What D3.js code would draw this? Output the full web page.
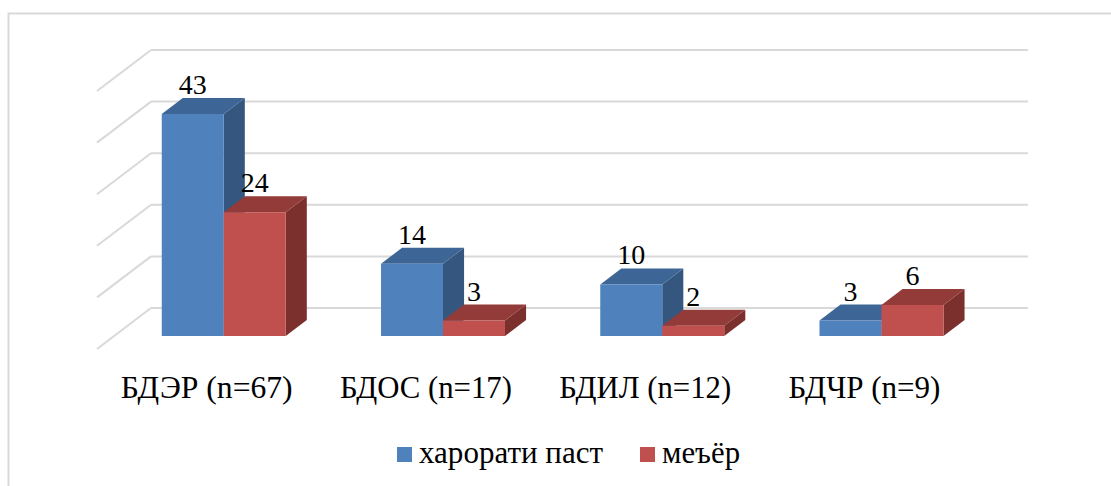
<!DOCTYPE html>
<html><head><meta charset="utf-8">
<script src="https://cdn.jsdelivr.net/npm/d3@7"></script>
</head><body style="margin:0">
<script>
const categories = ["БДЭР (n=67)", "БДОС (n=17)", "БДИЛ (n=12)", "БДЧР (n=9)"];
const seriesNames = ["харорати паст", "меъёр"];
const lowTemp = [43, 14, 10, 3];
const normal = [24, 3, 2, 6];
const ticks = [0, 10, 20, 30, 40, 50];

const W = 1111, H = 486;
const svg = d3.select("body").append("svg").attr("width", W).attr("height", H)
  .attr("font-family", "Liberation Serif").style("font-family", '"Liberation Serif"');

// outer border
svg.append("rect").attr("x", 8.5).attr("y", 13.5).attr("width", 1200).attr("height", 600)
  .attr("fill", "none").attr("stroke", "#D9D9D9").attr("stroke-width", 2);

const k = 54 / 41;            // depth vector slope (dx per dy)
const dBack = 12, dFront = 28, dFloor = 41;
const wallX0 = 151, wallX1 = 1028;

const y = d3.scaleLinear().domain([0, 50]).range([308, 50]);
const x = d3.scaleBand().domain(categories).range([wallX0, wallX1]).paddingInner(0.4345).paddingOuter(0.21725);
const xs = d3.scaleBand().domain(seriesNames).range([0, x.bandwidth()]);

const colors = {
  "харорати паст": {front: "#4F81BD", top: "#3D6595", side: "#35577F"},
  "меъёр": {front: "#C0504D", top: "#933B39", side: "#7B302E"}
};

// gridlines (back wall + left wall)
const g = svg.append("g");
ticks.forEach(t => {
  const yy = y(t);
  g.append("line").attr("x1", wallX0).attr("x2", wallX1).attr("y1", yy).attr("y2", yy)
    .attr("stroke", "#D9D9D9").attr("stroke-width", 2);
  g.append("line").attr("x1", wallX0).attr("y1", yy).attr("x2", wallX0 - k * dFloor).attr("y2", yy + dFloor)
    .attr("stroke", "#D9D9D9").attr("stroke-width", 2);
});

const data = categories.map((c, i) => ({cat: c, vals: [
  {s: seriesNames[0], v: lowTemp[i]},
  {s: seriesNames[1], v: normal[i]}
]}));

const P = pts => pts.map(p => p.join(",")).join(" ");
const bars = svg.append("g");
const labels = svg.append("g");
data.forEach(d => {
  d.vals.forEach(b => {
    const xb = x(d.cat) + xs(b.s);
    const w = xs.bandwidth();
    const c = colors[b.s];
    const fl = xb - k * dFront, fr = fl + w;
    const bl = xb - k * dBack, br = bl + w;
    const fTop = y(b.v) + dFront, fBot = y(0) + dFront;
    const bTop = y(b.v) + dBack, bBot = y(0) + dBack;
    bars.append("polygon").attr("points", P([[fr, fTop], [br, bTop], [br, bBot], [fr, fBot]])).attr("fill", c.side);
    bars.append("polygon").attr("points", P([[fl, fTop], [fr, fTop], [br, bTop], [bl, bTop]])).attr("fill", c.top);
    bars.append("polygon").attr("points", P([[fl, fTop], [fr, fTop], [fr, fBot], [fl, fBot]])).attr("fill", c.front);
    labels.append("text").style("font-family", '"Liberation Serif"').attr("font-size", 28)
      .attr("x", fl + w / 2).attr("y", bTop - 4).attr("text-anchor", "middle")
      .text(b.v);
  });
});

// category labels at floor front
categories.forEach(c => {
  const cx = x(c) + x.bandwidth() / 2 - k * dFloor;
  svg.append("text").style("font-family", '"Tinos"').attr("font-size", 32)
    .attr("x", cx).attr("y", y(0) + dFloor + 49).attr("text-anchor", "middle")
    .attr("textLength", c === categories[3] ? 152 : 172).attr("lengthAdjust", "spacingAndGlyphs")
    .text(c);
});

// legend
const leg = svg.append("g");
const legItems = [{s: seriesNames[0], x: 397, tx: 419, len: 184}, {s: seriesNames[1], x: 640, tx: 662, len: 78}];
legItems.forEach(it => {
  leg.append("rect").attr("x", it.x).attr("y", 447).attr("width", 15).attr("height", 15).attr("fill", colors[it.s].front);
  leg.append("text").style("font-family", '"Times New Roman"').attr("font-size", 31)
    .attr("x", it.tx).attr("y", 463)
    .attr("textLength", it.len).attr("lengthAdjust", "spacingAndGlyphs")
    .text(it.s);
});
</script>
</body></html>
